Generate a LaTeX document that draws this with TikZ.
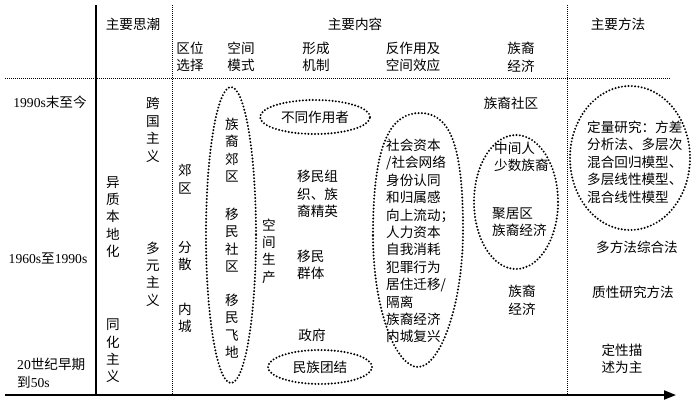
\documentclass[tikz,border=0pt]{standalone}
\usepackage{fontspec}
\setmainfont{Liberation Serif}
\newfontfamily\cjk{Noto Sans CJK SC}
\usetikzlibrary{shapes.geometric,arrows.meta}
\begin{document}
\begin{tikzpicture}[x=1pt,y=-1pt,
  txt/.style={font=\cjk\fontsize{13.6}{17.4}\selectfont, align=center, inner sep=0pt},
  ltxt/.style={txt, align=left, anchor=west},
  grid/.style={line width=1pt, dash pattern=on 1pt off 1pt},
  oval/.style={line width=2.2pt, dash pattern=on 0pt off 3.3pt, line cap=round},
  solidline/.style={line width=1.4pt}]
\useasboundingbox (0,0) rectangle (700,402);
% frame lines
\coordinate (vTop) at (96,5);   \coordinate (vBot) at (96,395);
\coordinate (d1T) at (172,5);  \coordinate (d1B) at (172,395);
\coordinate (d2T) at (567,5);  \coordinate (d2B) at (567,395);
\coordinate (hL) at (5,78);    \coordinate (hR) at (670,78);
\coordinate (axL) at (5,395);  \coordinate (axR) at (676,395);
\draw[solidline] (vTop) -- (vBot);
\draw[grid] (d1T) -- (d1B);
\draw[grid] (d2T) -- (d2B);
\draw[grid] (hL) -- (hR);
\draw[line width=2pt, -{Triangle[length=12pt,width=9pt]}] (axL) -- (axR);
% headers
\node[txt] (h1) at (133,24) {主要思潮};
\node[txt] (h2) at (355,24) {主要内容};
\node[txt] (h3) at (618,24) {主要方法};
\node[txt] (s1) at (190,57) {区位\\选择};
\node[txt] (s2) at (241,57) {空间\\模式};
\node[txt] (s3) at (316,57) {形成\\机制};
\node[txt] (s4) at (413,57) {反作用及\\空间效应};
\node[txt] (s5) at (521,57) {族裔\\经济};
% periods
\node[txt] (p1) at (50,102) {{\rmfamily 1990s}末至今};
\node[txt] (p2) at (48,258) {{\rmfamily 1960s}至{\rmfamily 1990s}};
\node[ltxt] (p3) at (17,373) {{\rmfamily 20}世纪早期\\到{\rmfamily 50s}};
% thoughts
\node[txt] (t1) at (153,130) {跨\\国\\主\\义};
\node[txt] (t2) at (153,274) {多\\元\\主\\义};
\node[txt] (t3) at (113,217) {异\\质\\本\\地\\化};
\node[txt] (t4) at (113,351) {同\\化\\主\\义};
% location
\node[txt] (l1) at (185,179) {郊\\区};
\node[txt] (l2) at (185,256) {分\\散};
\node[txt] (l3) at (185,318) {内\\城};
% spatial pattern
\draw[oval] (231,235) ellipse (25 and 148);
\node[txt] (m1) at (232,150) {族\\裔\\郊\\区};
\node[txt] (m2) at (232,240) {移\\民\\社\\区};
\node[txt] (m3) at (232,326) {移\\民\\飞\\地};
\node[txt] (sp) at (269,251) {空\\间\\生\\产};
% mechanism
\node[txt, draw, oval, ellipse, minimum width=110pt, minimum height=34pt] (f0) at (315,117) {不同作用者};
\node[ltxt] (f1) at (297,194) {移民组\\织、族\\裔精英};
\node[ltxt] (f2) at (297,265) {移民\\群体};
\node[txt] (f3) at (312,335) {政府};
\node[txt, draw, oval, ellipse, minimum width=104pt, minimum height=34pt] (f4) at (320,367) {民族团结};
% reaction
\draw[oval] (373,235) .. controls (373,140) and (392,113) .. (420,113)
  .. controls (450,113) and (463,145) .. (463,230)
  .. controls (463,305) and (440,367) .. (418,367)
  .. controls (396,367) and (373,310) .. (373,235) -- cycle;
\node[ltxt] (r1) at (386,241) {社会资本\\/社会网络\\身份认同\\和归属感\\向上流动；\\人力资本\\自我消耗\\犯罪行为\\居住迁移/\\隔离\\族裔经济\\内城复兴};
% ethnic economy
\node[txt] (e0) at (511,103) {族裔社区};
\draw[oval] (516,202) ellipse (42 and 67);
\node[ltxt] (e1) at (494,157) {中间人\\少数族裔};
\node[ltxt] (e2) at (492,222) {聚居区\\族裔经济};
\node[txt] (e3) at (522,300) {族裔\\经济};
% methods
\draw[oval] (630,158) ellipse (60 and 72);
\node[ltxt] (q1) at (587,162) {定量研究：方差\\分析法、多层次\\混合回归模型、\\多层线性模型、\\混合线性模型};
\node[txt] (q2) at (637,247) {多方法综合法};
\node[txt] (q3) at (633,292) {质性研究方法};
\node[txt] (q4) at (622,359) {定性描\\述为主};
\end{tikzpicture}
\end{document}
